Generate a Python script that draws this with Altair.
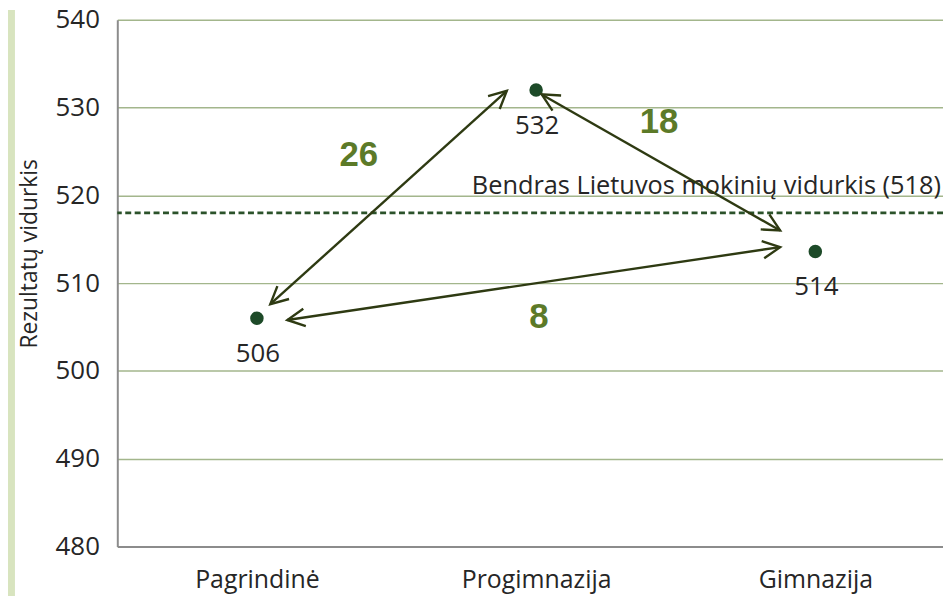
import math
import altair as alt
import pandas as pd

# ---- data ----
categories = ["Pagrindinė", "Progimnazija", "Gimnazija"]
values = [506.0, 532.0, 513.6]
value_labels = ["506", "532", "514"]

national_avg = [518]
avg_label = ["Bendras Lietuvos mokinių vidurkis (518)"]

diff_labels = ["26", "18", "8"]
diff_x = [0.365, 1.44, 1.01]
diff_y = [524.6, 528.4, 506.1]

arrow_x1 = [0.048, 1.02, 0.109]
arrow_y1 = [507.6, 531.5, 505.8]
arrow_x2 = [0.895, 1.874, 1.874]
arrow_y2 = [531.9, 516.0, 514.1]

# ---- layout ----
W, H = 831, 530
PX_X = 281.0
X_MIN = -0.5
X_MAX = X_MIN + W / PX_X
Y_MIN, Y_MAX = 480, 540
PX_Y = H / (Y_MAX - Y_MIN)

FONT = "Open Sans"
TEXT = "#262626"
GREEN_DOT = "#1d4a28"
ARROW = "#2e3a12"
NUM = "#5c7a28"

xs = alt.Scale(domain=[X_MIN, X_MAX], nice=False, zero=False)
ys = alt.Scale(domain=[Y_MIN, Y_MAX], nice=False, zero=False)

pts = pd.DataFrame({
    "pos": list(range(len(categories))),
    "cat": categories,
    "val": values,
    "lab": value_labels,
})

label_expr = "[" + ",".join("'" + c + "'" for c in categories) + "][datum.value]"

points = alt.Chart(pts).mark_circle(size=185, opacity=1, color=GREEN_DOT).encode(
    x=alt.X("pos:Q", scale=xs, axis=alt.Axis(
        values=list(range(len(categories))), labelExpr=label_expr, title=None,
        grid=False, ticks=False, tickSize=0, labelPadding=41,
        labelFont=FONT, labelFontSize=25, labelColor=TEXT,
        domainColor="#8c8c8c", domainWidth=2, labelBaseline="alphabetic")),
    y=alt.Y("val:Q", scale=ys, axis=alt.Axis(
        values=list(range(Y_MIN, Y_MAX + 1, 10)), title="Rezultatų vidurkis",
        titleFont=FONT, titleFontSize=23, titleFontWeight="normal", titleColor=TEXT,
        titleAngle=270, titleX=-76, titleY=235, titleAlign="center", titleBaseline="bottom",
        grid=True, gridColor="#a3b68c", gridWidth=1.5,
        ticks=False, tickSize=0, labelPadding=18,
        labelFont=FONT, labelFontSize=26, labelColor=TEXT,
        domainColor="#8c8c8c", domainWidth=2)),
)

point_text = alt.Chart(pts).mark_text(
    font=FONT, fontSize=26, color=TEXT, baseline="alphabetic", dy=44, dx=1
).encode(x=alt.X("pos:Q", scale=xs), y=alt.Y("val:Q", scale=ys), text="lab:N")

avg_df = pd.DataFrame({"y": national_avg, "t": avg_label, "x": [X_MAX]})
avg_line = alt.Chart(avg_df).mark_rule(color="#2b522a", strokeWidth=2.7, strokeDash=[6, 3.5]).encode(
    y=alt.Y("y:Q", scale=ys))
avg_text = alt.Chart(avg_df).mark_text(
    font=FONT, fontSize=25.5, color=TEXT, align="right", baseline="alphabetic", dy=-19, dx=-2
).encode(x=alt.X("x:Q", scale=xs), y=alt.Y("y:Q", scale=ys), text="t:N")

arr = pd.DataFrame({"x1": arrow_x1, "y1": arrow_y1, "x2": arrow_x2, "y2": arrow_y2})
arrow_lines = alt.Chart(arr).mark_rule(color=ARROW, strokeWidth=2.4).encode(
    x=alt.X("x1:Q", scale=xs), y=alt.Y("y1:Q", scale=ys), x2="x2:Q", y2="y2:Q")


def head_angle(xa, ya, xb, yb):
    dx = (xb - xa) * PX_X
    dy = -(yb - ya) * PX_Y
    return math.degrees(math.atan2(dx, -dy)) % 360


heads = []
for a, b, c, d in zip(arrow_x1, arrow_y1, arrow_x2, arrow_y2):
    heads.append({"x": c, "y": d, "ang": head_angle(a, b, c, d)})
    heads.append({"x": a, "y": b, "ang": head_angle(c, d, a, b)})
heads_df = pd.DataFrame(heads)

arrow_heads = alt.Chart(heads_df).mark_point(
    shape="M -0.5 1 L 0 0 L 0.5 1", filled=False, size=1225, stroke=ARROW, strokeWidth=2.4, opacity=1
).encode(x=alt.X("x:Q", scale=xs), y=alt.Y("y:Q", scale=ys), angle=alt.Angle("ang:Q", scale=None))

diff_df = pd.DataFrame({"x": diff_x, "y": diff_y, "t": diff_labels})
diff_text = alt.Chart(diff_df).mark_text(
    font="Liberation Sans", fontWeight="bold", fontSize=35, color=NUM, baseline="middle"
).encode(x=alt.X("x:Q", scale=xs), y=alt.Y("y:Q", scale=ys), text="t:N")

strip = alt.Chart(pd.DataFrame({"a": [0]})).mark_rect(color="#d8e4bf").encode(
    x=alt.value(-110), x2=alt.value(-103), y=alt.value(-10), y2=alt.value(H + 50))

chart = alt.layer(
    points, strip, avg_line, avg_text, arrow_lines, arrow_heads, point_text, diff_text
).properties(
    width=W, height=H,
    autosize=alt.AutoSizeParams(type="none"),
    padding={"left": 110, "top": 10, "right": 0, "bottom": 49},
    background="white",
).configure_view(strokeWidth=0)

chart.save("out.html", embed_options={"renderer": "svg", "actions": False})
